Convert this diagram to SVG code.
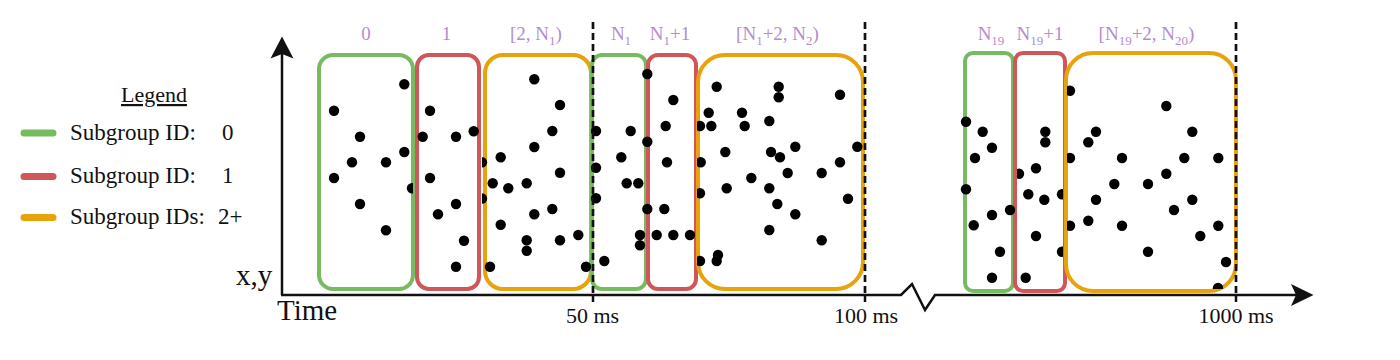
<svg xmlns="http://www.w3.org/2000/svg" width="1400" height="360" viewBox="0 0 1400 360">
<style>
.t{font-family:"Liberation Serif","DejaVu Serif",serif;fill:#111}
.lbl{font-family:"Liberation Serif","DejaVu Serif",serif;fill:#b48ccf;font-size:19px;text-anchor:middle}
.box{fill:none;stroke-width:4}
.g{stroke:#76bb5f}.r{stroke:#d05659}.o{stroke:#e8a20c}
.dash{stroke:#111;stroke-width:2.7;stroke-dasharray:7 4;fill:none}
.ax{stroke:#111;stroke-width:2.5;fill:none}
.d circle{fill:#000}
</style>
<defs>
<clipPath id="cG1"><rect x="300" y="40" width="113" height="260"/></clipPath>
<clipPath id="cO1"><rect x="482" y="40" width="120" height="260"/></clipPath>
<clipPath id="cO2"><rect x="697" y="40" width="180" height="260"/></clipPath>
<clipPath id="cR3L"><rect x="1017" y="40" width="60" height="260"/></clipPath>
<clipPath id="cR3R"><rect x="1000" y="40" width="63" height="260"/></clipPath>
<clipPath id="cO3L"><rect x="1067" y="40" width="180" height="260"/></clipPath>
<clipPath id="cO3B"><rect x="1060" y="40" width="180" height="249"/></clipPath>
</defs>
<rect width="1400" height="360" fill="#fff"/>

<g id="legend">
<text class="t" x="154" y="102" font-size="22" text-anchor="middle" text-decoration="underline">Legend</text>
<line x1="24" y1="133" x2="53" y2="133" stroke="#76bb5f" stroke-width="7" stroke-linecap="round"/>
<text class="t" x="70" y="140" font-size="23">Subgroup ID:</text>
<text class="t" x="222" y="140" font-size="23">0</text>
<line x1="24" y1="176.5" x2="53" y2="176.5" stroke="#d05659" stroke-width="7" stroke-linecap="round"/>
<text class="t" x="70" y="183" font-size="23">Subgroup ID:</text>
<text class="t" x="222" y="183" font-size="23">1</text>
<line x1="24" y1="217.5" x2="53" y2="217.5" stroke="#e8a20c" stroke-width="7" stroke-linecap="round"/>
<text class="t" x="70" y="224" font-size="23">Subgroup IDs:</text>
<text class="t" x="218" y="224" font-size="23">2+</text>
</g>

<g id="connectors">
<path class="ax" d="M282,295 V52"/>
<path d="M282,36.5 L293.5,58.5 L282,54 L270.5,58.5 Z" fill="#111"/>
<path class="ax" d="M281,295 H901 L912,284 L925,310 L935,295 H1300"/>
<path d="M1313.5,295 L1291,284 L1296,295 L1291,306 Z" fill="#111"/>
<path class="ax" d="M593,295 V302 M865,295 V302 M1236,295 V302"/>
</g>

<g id="axis-labels">
<text class="t" x="236" y="285" font-size="29">x,y</text>
<text class="t" x="277" y="320" font-size="29">Time</text>
<text class="t" x="592.5" y="323" font-size="22" text-anchor="middle">50 ms</text>
<text class="t" x="866" y="323" font-size="22" text-anchor="middle">100 ms</text>
<text class="t" x="1236" y="323" font-size="22" text-anchor="middle">1000 ms</text>
</g>

<g id="sg0"><rect class="box g" x="319" y="55" width="94" height="234" rx="14"/><text class="lbl" x="366" y="40">0</text></g>
<g id="sg1"><rect class="box r" x="417" y="55" width="62" height="234" rx="12"/><text class="lbl" x="446.5" y="40">1</text></g>
<g id="sg2-N1"><rect class="box o" x="485" y="55" width="106" height="234" rx="18"/><text class="lbl" x="536" y="40">[2, N<tspan font-size="13" dy="5">1</tspan><tspan dy="-5">)</tspan></text></g>
<g id="sgN1"><rect class="box g" x="592" y="55" width="54" height="234" rx="10"/><text class="lbl" x="621" y="40">N<tspan font-size="13" dy="5">1</tspan></text></g>
<g id="sgN1p1"><rect class="box r" x="648" y="55" width="48" height="234" rx="10"/><text class="lbl" x="670" y="40">N<tspan font-size="13" dy="5">1</tspan><tspan dy="-5">+1</tspan></text></g>
<g id="sgN1p2-N2"><rect class="box o" x="698" y="55" width="165" height="234" rx="27"/><text class="lbl" x="777.5" y="40">[N<tspan font-size="13" dy="5">1</tspan><tspan dy="-5">+2, N</tspan><tspan font-size="13" dy="5">2</tspan><tspan dy="-5">)</tspan></text></g>
<g id="sgN19"><rect class="box g" x="965" y="53" width="48" height="238" rx="8"/><text class="lbl" x="991" y="40">N<tspan font-size="13" dy="5">19</tspan></text></g>
<g id="sgN19p1"><rect class="box r" x="1015" y="53" width="50" height="238" rx="8"/><text class="lbl" x="1040" y="40">N<tspan font-size="13" dy="5">19</tspan><tspan dy="-5">+1</tspan></text></g>
<g id="sgN19p2-N20"><rect class="box o" x="1066" y="53" width="170" height="238" rx="27"/><text class="lbl" x="1146.5" y="40">[N<tspan font-size="13" dy="5">19</tspan><tspan dy="-5">+2, N</tspan><tspan font-size="13" dy="5">20</tspan><tspan dy="-5">)</tspan></text></g>

<g id="samples" class="d">
<circle cx="334" cy="110.7" r="5.2"/><circle cx="360" cy="136.7" r="5.2"/><circle cx="352" cy="162.3" r="5.2"/><circle cx="386" cy="162.3" r="5.2"/><circle cx="334" cy="178" r="5.2"/><circle cx="360" cy="204" r="5.2"/><circle cx="386" cy="230.3" r="5.2"/><circle cx="404.3" cy="84.3" r="5.2"/><circle cx="404.3" cy="152" r="5.2"/>
<circle cx="412" cy="188.3" r="5.2" clip-path="url(#cG1)"/>
<circle cx="430" cy="110.7" r="5.2"/><circle cx="422.7" cy="136.7" r="5.2"/><circle cx="456" cy="136.7" r="5.2"/><circle cx="473.7" cy="131.3" r="5.2"/><circle cx="430" cy="178" r="5.2"/><circle cx="456" cy="204" r="5.2"/><circle cx="438" cy="214.3" r="5.2"/><circle cx="464" cy="240.7" r="5.2"/><circle cx="456" cy="266.7" r="5.2"/>
<circle cx="482" cy="162.3" r="5.2" clip-path="url(#cO1)"/><circle cx="482" cy="198.5" r="5.2" clip-path="url(#cO1)"/>
<circle cx="534.3" cy="79.3" r="5.2"/><circle cx="560" cy="105" r="5.2"/><circle cx="552.3" cy="131" r="5.2"/><circle cx="534.3" cy="147" r="5.2"/><circle cx="500.7" cy="157.3" r="5.2"/><circle cx="560" cy="172.7" r="5.2"/><circle cx="492.7" cy="183.3" r="5.2"/><circle cx="508.3" cy="188.3" r="5.2"/><circle cx="526.7" cy="183.3" r="5.2"/><circle cx="534.3" cy="214.3" r="5.2"/><circle cx="552.3" cy="209" r="5.2"/><circle cx="500.7" cy="224.7" r="5.2"/><circle cx="526.7" cy="240.3" r="5.2"/><circle cx="526.7" cy="250.7" r="5.2"/><circle cx="560" cy="240.3" r="5.2"/><circle cx="578.3" cy="235" r="5.2"/><circle cx="490" cy="266.7" r="5.2"/><circle cx="586" cy="266.7" r="5.2"/>
<circle cx="596" cy="131" r="5.2"/><circle cx="596" cy="167.7" r="5.2"/><circle cx="596" cy="198.3" r="5.2"/><circle cx="604.3" cy="261" r="5.2"/><circle cx="630.7" cy="131" r="5.2"/><circle cx="621.3" cy="157.3" r="5.2"/><circle cx="626.7" cy="183.3" r="5.2"/><circle cx="638.3" cy="183.3" r="5.2"/><circle cx="640" cy="235" r="5.2"/><circle cx="640" cy="245.3" r="5.2"/>
<circle cx="647.3" cy="74" r="5.2"/><circle cx="647.3" cy="141.7" r="5.2"/><circle cx="647.3" cy="209" r="5.2"/>
<circle cx="673.3" cy="100" r="5.2"/><circle cx="665.7" cy="126" r="5.2"/><circle cx="667" cy="162.3" r="5.2"/><circle cx="664.3" cy="209" r="5.2"/><circle cx="656.7" cy="235" r="5.2"/><circle cx="673.3" cy="235" r="5.2"/><circle cx="690" cy="235" r="5.2"/>
<circle cx="700" cy="126" r="5.2" clip-path="url(#cO2)"/><circle cx="700.7" cy="162.3" r="5.2" clip-path="url(#cO2)"/><circle cx="700" cy="193.3" r="5.2" clip-path="url(#cO2)"/><circle cx="700" cy="261" r="5.2" clip-path="url(#cO2)"/>
<circle cx="716.7" cy="86.7" r="5.2"/><circle cx="778.7" cy="86.7" r="5.2"/><circle cx="778.7" cy="97.3" r="5.2"/><circle cx="840" cy="94.7" r="5.2"/><circle cx="708.7" cy="112.7" r="5.2"/><circle cx="742" cy="112.7" r="5.2"/><circle cx="711.3" cy="126" r="5.2"/><circle cx="744.7" cy="126" r="5.2"/><circle cx="769.3" cy="121" r="5.2"/><circle cx="725.3" cy="152" r="5.2"/><circle cx="771" cy="152" r="5.2"/><circle cx="780" cy="157.3" r="5.2"/><circle cx="795.3" cy="146.7" r="5.2"/><circle cx="857.3" cy="146.7" r="5.2"/><circle cx="840" cy="162.3" r="5.2"/><circle cx="787.7" cy="173" r="5.2"/><circle cx="821.7" cy="173" r="5.2"/><circle cx="751.3" cy="178" r="5.2"/><circle cx="726.7" cy="188.3" r="5.2"/><circle cx="769.3" cy="188.3" r="5.2"/><circle cx="777.3" cy="204" r="5.2"/><circle cx="795.3" cy="214.3" r="5.2"/><circle cx="848" cy="198.7" r="5.2"/><circle cx="769.3" cy="230" r="5.2"/><circle cx="821.7" cy="240.3" r="5.2"/><circle cx="718" cy="255" r="5.2"/><circle cx="716.7" cy="261" r="5.2"/>
<circle cx="966" cy="121.7" r="5.2"/><circle cx="982.7" cy="131.7" r="5.2"/><circle cx="992" cy="147.7" r="5.2"/><circle cx="975" cy="158" r="5.2"/><circle cx="966" cy="189.3" r="5.2"/><circle cx="992" cy="215" r="5.2"/><circle cx="973.7" cy="225.3" r="5.2"/><circle cx="1000" cy="251.7" r="5.2"/><circle cx="992" cy="277.7" r="5.2"/><circle cx="1010" cy="210" r="5.2"/>
<circle cx="1019" cy="173.7" r="5.2" clip-path="url(#cR3L)"/>
<circle cx="1045.3" cy="131.7" r="5.2"/><circle cx="1045.3" cy="142.3" r="5.2"/><circle cx="1036" cy="168.3" r="5.2"/><circle cx="1028.3" cy="194.3" r="5.2"/><circle cx="1044.3" cy="199.7" r="5.2"/><circle cx="1036" cy="236" r="5.2"/><circle cx="1025.7" cy="277.7" r="5.2"/>
<circle cx="1062" cy="194.3" r="5.2" clip-path="url(#cR3R)"/><circle cx="1062" cy="251.7" r="5.2" clip-path="url(#cR3R)"/>
<circle cx="1070" cy="90.7" r="5.2" clip-path="url(#cO3L)"/><circle cx="1070" cy="158" r="5.2" clip-path="url(#cO3L)"/><circle cx="1070" cy="225.7" r="5.2" clip-path="url(#cO3L)"/>
<circle cx="1166.3" cy="106" r="5.2"/><circle cx="1096" cy="131.7" r="5.2"/><circle cx="1192.3" cy="131.7" r="5.2"/><circle cx="1088.3" cy="142.3" r="5.2"/><circle cx="1122" cy="158" r="5.2"/><circle cx="1184.3" cy="158" r="5.2"/><circle cx="1218.3" cy="158" r="5.2"/><circle cx="1166.3" cy="173.7" r="5.2"/><circle cx="1114.3" cy="184" r="5.2"/><circle cx="1148" cy="184" r="5.2"/><circle cx="1096" cy="199.7" r="5.2"/><circle cx="1192.3" cy="199.7" r="5.2"/><circle cx="1174" cy="210" r="5.2"/><circle cx="1088.3" cy="220.7" r="5.2"/><circle cx="1122" cy="225.7" r="5.2"/><circle cx="1218.3" cy="225.7" r="5.2"/><circle cx="1200.3" cy="236" r="5.2"/><circle cx="1148" cy="251.7" r="5.2"/><circle cx="1226" cy="262" r="5.2"/>
<circle cx="1218" cy="288" r="5.2" clip-path="url(#cO3B)"/>
</g>

<g id="time-markers">
<path class="dash" d="M593,22 V295 M865,22 V295 M1236,22 V295"/>
</g>
</svg>
